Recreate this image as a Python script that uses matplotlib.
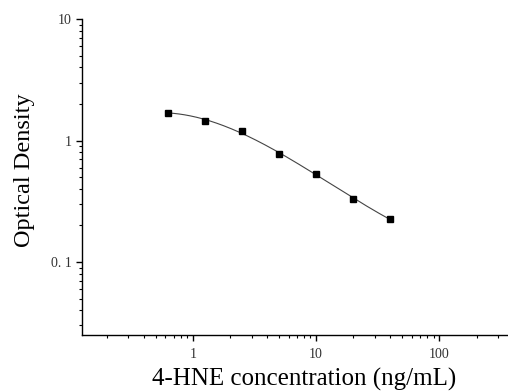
import numpy as np
import matplotlib
matplotlib.use("Agg")
import matplotlib.pyplot as plt
from matplotlib.ticker import LogLocator, NullFormatter

# standard concentrations and measured OD
conc = [0.625, 1.25, 2.5, 5, 10, 20, 40]
od = [1.70, 1.46, 1.19, 0.77, 0.535, 0.333, 0.224]

x_ticks = [1, 10, 100]
x_tick_labels = ["1", "10", "100"]
y_ticks = [0.1, 1, 10]
y_tick_labels = ["0. 1", "1", "10"]

plt.rcParams['font.family'] = ['Liberation Serif', 'DejaVu Serif']

fig = plt.figure(figsize=(5.08, 3.91), dpi=100)
ax = fig.add_axes([0.161, 0.143, 0.839, 0.808])

# smooth standard curve: cubic fit in log-log space
lx = np.log10(conc)
ly = np.log10(od)
coef = np.polyfit(lx, ly, 3)
xs = np.linspace(lx[0], lx[-1], 200)
ax.plot(10 ** xs, 10 ** np.polyval(coef, xs), color='#444444', lw=0.8, zorder=2)
ax.plot(conc, od, 's', color='black', markersize=5, zorder=3)

ax.set_xscale('log')
ax.set_yscale('log')
ax.set_xlim(0.126, 360)
ax.set_ylim(0.025, 10)

ax.set_xticks(x_ticks)
ax.set_xticklabels(x_tick_labels)
ax.set_yticks(y_ticks)
ax.set_yticklabels(y_tick_labels)
ax.xaxis.set_minor_locator(LogLocator(base=10, subs=np.arange(2, 10)))
ax.yaxis.set_minor_locator(LogLocator(base=10, subs=np.arange(2, 10)))
ax.xaxis.set_minor_formatter(NullFormatter())
ax.yaxis.set_minor_formatter(NullFormatter())

ax.spines['top'].set_visible(False)
ax.spines['right'].set_visible(False)
for s in ['left', 'bottom']:
    ax.spines[s].set_linewidth(1.0)

ax.tick_params(which='major', direction='out', length=4, width=1.0, labelsize=10,
               labelcolor='#333333')
ax.tick_params(axis='y', which='major', pad=3)
ax.tick_params(axis='x', which='major', pad=5)
ax.tick_params(which='minor', direction='out', length=2.5, width=0.8)

ax.set_xlabel('4-HNE concentration (ng/mL)', fontsize=18, labelpad=5, x=0.521)
ax.set_ylabel('Optical Density', fontsize=17.5, labelpad=12, y=0.522)

fig.savefig('out.png', dpi=100)
